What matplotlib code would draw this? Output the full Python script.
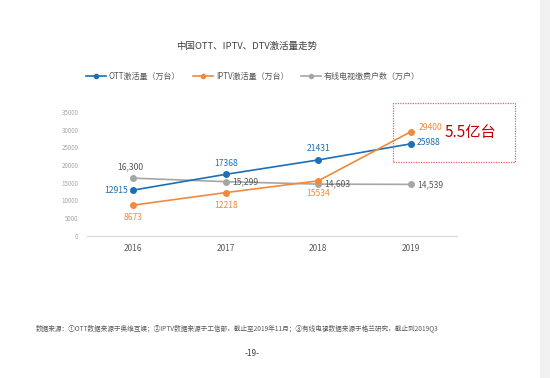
import matplotlib.pyplot as plt
from matplotlib.patches import Rectangle

plt.rcParams['font.family'] = ['Noto Sans CJK SC', 'DejaVu Sans']

years = ['2016', '2017', '2018', '2019']
ott = [12915, 17368, 21431, 25988]
iptv = [8673, 12218, 15534, 29400]
dtv = [16300, 15299, 14603, 14539]
yticks = [0, 5000, 10000, 15000, 20000, 25000, 30000, 35000]

blue = '#1f6fb4'
orange = '#f08a3c'
grey = '#a6a6a6'

fig = plt.figure(figsize=(5.5, 3.78), dpi=100)
fig.patch.set_facecolor('white')
ax = fig.add_axes([0.158, 0.376, 0.673, 0.328])
x = list(range(len(years)))

ax.plot(x, ott, color=blue, lw=1.2, marker='o', ms=4, label='OTT激活量（万台）', zorder=3)
ax.plot(x, iptv, color=orange, lw=1.2, marker='o', ms=4, label='IPTV激活量（万台）', zorder=3)
ax.plot(x, dtv, color=grey, lw=1.2, marker='o', ms=4, label='有线电视缴费户数（万户）', zorder=2)

ax.set_xlim(-0.5, 3.5)
ax.set_ylim(0, 35000)
ax.set_xticks(x)
ax.set_xticklabels(years, fontsize=6, color='#595959')
ax.set_yticks(yticks)
ax.set_yticklabels([str(v) for v in yticks], fontsize=4.5, color='#a6a6a6')
ax.tick_params(length=0, pad=6)
ax.tick_params(axis='x', pad=6)
for s in ['top', 'right', 'left']:
    ax.spines[s].set_visible(False)
ax.spines['bottom'].set_color('#d9d9d9')

fs = 6.2
# OTT labels
ax.annotate(f'{ott[0]}', (0, ott[0]), xytext=(-12, 0), textcoords='offset points',
            ha='center', va='center', color=blue, fontsize=fs)
for i in [1, 2]:
    ax.annotate(f'{ott[i]}', (i, ott[i]), xytext=(0, 8), textcoords='offset points',
                ha='center', va='center', color=blue, fontsize=fs)
ax.annotate(f'{ott[3]}', (3, ott[3]), xytext=(13, 1), textcoords='offset points',
            ha='center', va='center', color=blue, fontsize=fs)
# IPTV labels
for i in [0, 1, 2]:
    ax.annotate(f'{iptv[i]}', (i, iptv[i]), xytext=(0, -9), textcoords='offset points',
                ha='center', va='center', color=orange, fontsize=fs)
ax.annotate(f'{iptv[3]}', (3, iptv[3]), xytext=(14, 3), textcoords='offset points',
            ha='center', va='center', color=orange, fontsize=fs)
# DTV labels
ax.annotate(f'{dtv[0]:,}', (0, dtv[0]), xytext=(-2, 8), textcoords='offset points',
            ha='center', va='center', color='#595959', fontsize=fs)
for i in [1, 2, 3]:
    ax.annotate(f'{dtv[i]:,}', (i, dtv[i]), xytext=(14, 0), textcoords='offset points',
                ha='center', va='center', color='#595959', fontsize=fs)

# legend
ax.legend(loc='center left', bbox_to_anchor=(-0.01, 1.29), ncol=3, frameon=False,
          fontsize=5.8, handlelength=2.4, columnspacing=1.6, handletextpad=0.4,
          markerscale=0.75, labelcolor='#595959', borderaxespad=0)

# highlight box
fig.patches.append(Rectangle((393 / 550, 1 - 162 / 378), 122 / 550, 59 / 378,
                             transform=fig.transFigure, fill=False, ec='#e06666',
                             lw=0.9, ls=(0, (1, 1))))
fig.text(470 / 550, 1 - 132 / 378, '5.5亿台', color='#c00000', fontsize=11,
         ha='center', va='center')

fig.text(247 / 550, 1 - 46 / 378, '中国OTT、IPTV、DTV激活量走势', fontsize=6.8,
         ha='center', va='center', color='#404040')
fig.text(36 / 550, 1 - 328 / 378,
         '数据来源：①OTT数据来源于奥维互娱；②IPTV数据来源于工信部，截止至2019年11月；③有线电视数据来源于格兰研究，截止到2019Q3',
         fontsize=4.8, ha='left', va='center', color='#595959')
fig.text(252 / 550, 1 - 354 / 378, '-19-', fontsize=6, ha='center', va='center', color='#404040')

# right page strip
fig.patches.append(Rectangle((540 / 550, 0), 10 / 550, 1, transform=fig.transFigure,
                             color='#f0f0f0', lw=0))

fig.savefig('out.png', dpi=100)
